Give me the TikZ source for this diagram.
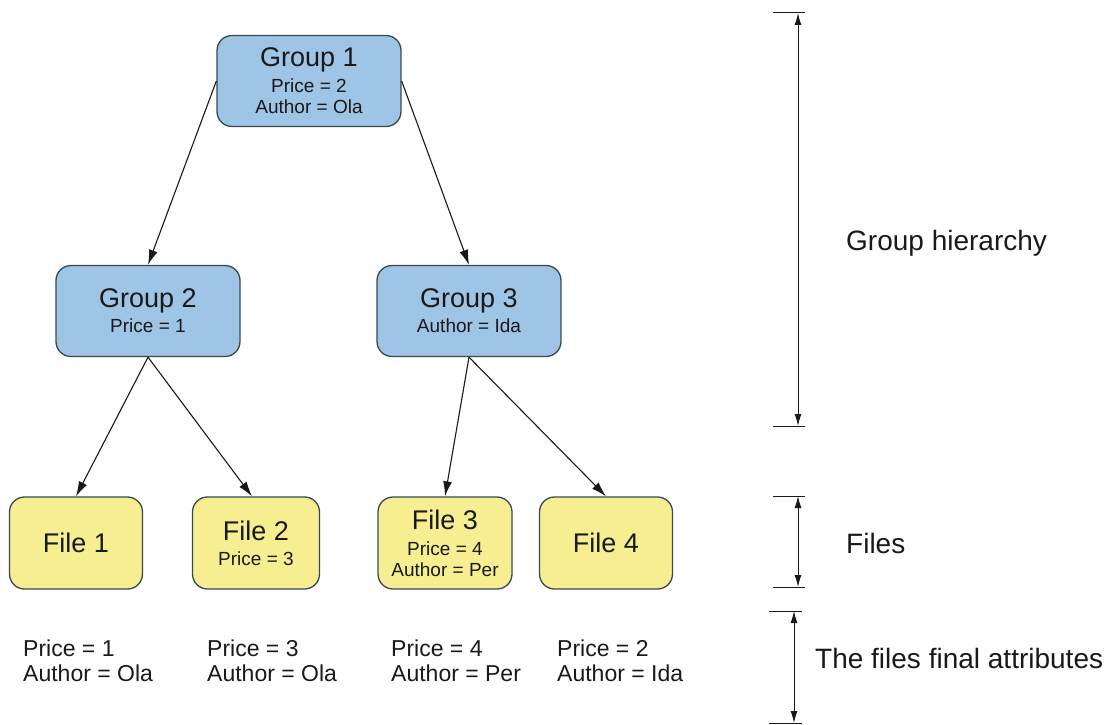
\documentclass[tikz,border=0pt]{standalone}
\usepackage{fontspec}
\setmainfont{Liberation Sans}
\usetikzlibrary{arrows.meta}
\definecolor{groupfill}{RGB}{158,196,230}
\definecolor{filefill}{RGB}{247,238,145}
\definecolor{boxline}{RGB}{55,75,80}
\definecolor{ink}{RGB}{25,25,25}
\newcommand{\ttl}[1]{{\fontsize{27}{27}\selectfont #1}}
\tikzset{
  box/.style={draw=boxline, line width=1.3pt, rounded corners=15pt, align=center,
    text=ink, font=\fontsize{19}{21}\selectfont, inner sep=0pt},
  groupbox/.style={box, fill=groupfill, minimum width=184pt, minimum height=91pt},
  filebox/.style={box, fill=filefill, minimum width=133pt, minimum height=92pt},
  link/.style={draw=ink, line width=1.1pt, -{Latex[length=15pt,width=9pt]}},
  dim/.style={draw=ink, line width=1pt, {Latex[length=12pt,width=7pt]}-{Latex[length=12pt,width=7pt]}},
  tick/.style={draw=ink, line width=1pt},
  attr/.style={anchor=north west, align=left, text=ink, font=\fontsize{23}{25}\selectfont, inner sep=0pt},
  side/.style={anchor=base west, text=ink, font=\fontsize{28}{30}\selectfont, inner sep=0pt}
}
\begin{document}
\begin{tikzpicture}[x=1pt, y=-1pt]
\useasboundingbox (0,0) rectangle (1109,725);

% group hierarchy
\node[groupbox] (g1) at (309,81) {\ttl{Group 1}\\[5pt] Price = 2\\ Author = Ola};
\node[groupbox] (g2) at (148,311) {\ttl{Group 2}\\[4pt] Price = 1};
\node[groupbox] (g3) at (469,311) {\ttl{Group 3}\\[4pt] Author = Ida};

% files
\node[filebox] (f1) at (76,543) {\ttl{File 1}};
\node[filebox, minimum width=127pt] (f2) at (256,543) {\ttl{File 2}\\[4pt] Price = 3};
\node[filebox, minimum width=134pt] (f3) at (445,543) {\ttl{File 3}\\[5pt] Price = 4\\ Author = Per};
\node[filebox] (f4) at (606,543) {\ttl{File 4}};

% parent -> child links
\draw[link] (g1.west) -- (g2.north);
\draw[link] (g1.east) -- (g3.north);
\draw[link] (g2.south) -- (f1.north);
\draw[link] (g2.south) -- ([xshift=-4pt]f2.north);
\draw[link] (g3.south) -- (f3.north);
\draw[link] (g3.south) -- (f4.north);

% resulting attributes of each file
\node[attr] (a1) at (23,640) {Price = 1\\ Author = Ola};
\node[attr] (a2) at (207,640) {Price = 3\\ Author = Ola};
\node[attr] (a3) at (391,640) {Price = 4\\ Author = Per};
\node[attr] (a4) at (557,640) {Price = 2\\ Author = Ida};

% dimension markers on the right
\coordinate (h1) at (798,13);
\coordinate (h2) at (798,426);
\coordinate (m1) at (798,496);
\coordinate (m2) at (798,587);
\coordinate (b1) at (794,611);
\coordinate (b2) at (794,723);
\draw[tick] ([xshift=-25pt]h1) -- ([xshift=7pt]h1);
\draw[tick] ([xshift=-25pt]h2) -- ([xshift=7pt]h2);
\draw[tick] ([xshift=-25pt]m1) -- ([xshift=7pt]m1);
\draw[tick] ([xshift=-25pt]m2) -- ([xshift=7pt]m2);
\draw[tick] ([xshift=-25pt]b1) -- ([xshift=8pt]b1);
\draw[tick] ([xshift=-25pt]b2) -- ([xshift=8pt]b2);
\draw[dim] (h1) -- (h2);
\draw[dim] (m1) -- (m2);
\draw[dim] (b1) -- (b2);

\node[side] (l1) at (846,250) {Group hierarchy};
\node[side] (l2) at (846,553) {Files};
\node[side] (l3) at (815,668) {The files final attributes};
\end{tikzpicture}
\end{document}
